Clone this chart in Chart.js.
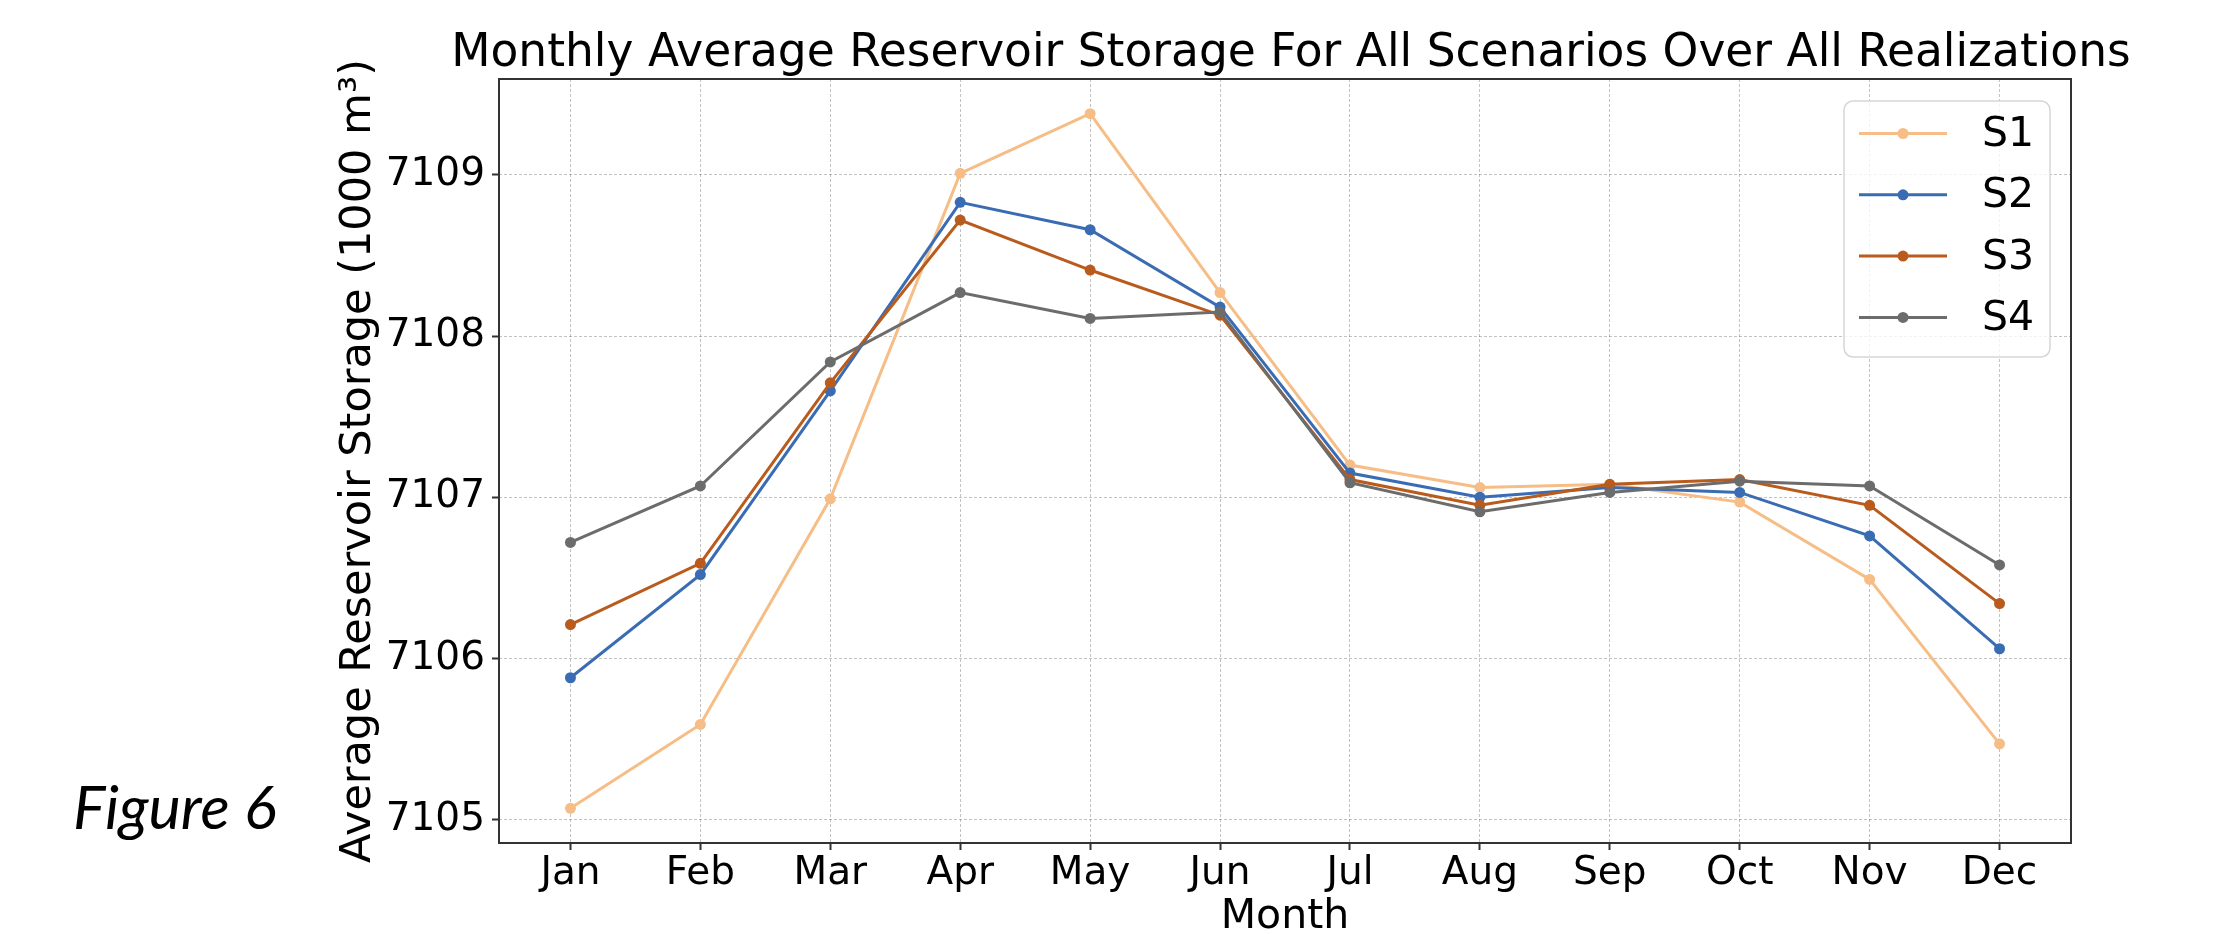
<!DOCTYPE html>
<html>
<head>
<meta charset="utf-8">
<title>Monthly Average Reservoir Storage</title>
<script src="https://cdn.jsdelivr.net/npm/chart.js@4.4.1/dist/chart.umd.min.js"></script>
<style>
  html, body { margin: 0; padding: 0; background: #ffffff; }
  #wrap { position: relative; width: 2213px; height: 934px; background: #ffffff; }
  canvas { display: block; }
</style>
</head>
<body>
<div id="wrap"><canvas id="chart" width="2213" height="934"></canvas></div>
<script>
// Month categories (x axis)
const months = ['Jan', 'Feb', 'Mar', 'Apr', 'May', 'Jun', 'Jul', 'Aug', 'Sep', 'Oct', 'Nov', 'Dec'];

// Average reservoir storage per month, 1000 m³
const storageS1 = [7105.07, 7105.59, 7106.99, 7109.01, 7109.38, 7108.27, 7107.20, 7107.06, 7107.08, 7106.97, 7106.49, 7105.47];
const storageS2 = [7105.88, 7106.52, 7107.66, 7108.83, 7108.66, 7108.18, 7107.15, 7107.00, 7107.06, 7107.03, 7106.76, 7106.06];
const storageS3 = [7106.21, 7106.59, 7107.71, 7108.72, 7108.41, 7108.13, 7107.11, 7106.95, 7107.08, 7107.11, 7106.95, 7106.34];
const storageS4 = [7106.72, 7107.07, 7107.84, 7108.27, 7108.11, 7108.15, 7107.09, 7106.91, 7107.03, 7107.10, 7107.07, 7106.58];

// Scenario names and y-axis tick values
const scenarioNames = ['S1', 'S2', 'S3', 'S4'];
const yTickValues = [7105, 7106, 7107, 7108, 7109];

const seriesValues = [storageS1, storageS2, storageS3, storageS4];
const seriesColors = ['#f6be86', '#3a6cb3', '#b95b1c', '#6c6c6c'];

const chartTitle = 'Monthly Average Reservoir Storage For All Scenarios Over All Realizations';

const FONT = "'DejaVu Sans', 'Liberation Sans', sans-serif";
Chart.defaults.font.family = FONT;
Chart.defaults.color = '#000000';

// Axis limits with a 5% margin around the data
const allValues = seriesValues.flat();
const yLo = Math.min(...allValues), yHi = Math.max(...allValues);
const yPad = (yHi - yLo) * 0.05;
const xPad = (months.length - 1) * 0.05;

const datasets = seriesValues.map((vals, i) => ({
  label: scenarioNames[i],
  data: vals.map((v, k) => ({ x: k, y: v })),
  borderColor: seriesColors[i],
  backgroundColor: seriesColors[i],
  pointBackgroundColor: seriesColors[i],
  pointBorderWidth: 0,
  pointRadius: 5.5,
  pointHoverRadius: 5.5,
  borderWidth: 3,
  tension: 0,
  order: seriesValues.length - i
}));

// Frame around the plot area, in-plot legend, title and figure caption
const framePlugin = {
  id: 'frameAndLegend',
  afterDatasetsDraw(chart) {
    const { ctx, chartArea: a } = chart;
    ctx.save();
    ctx.strokeStyle = '#333333';
    ctx.lineWidth = 2;
    ctx.strokeRect(a.left, a.top, a.right - a.left, a.bottom - a.top);

    // legend box, top-right inside the plot
    const boxW = 206, boxH = 256, r = 9;
    const bx = a.right - 21 - boxW, by = a.top + 22;
    ctx.beginPath();
    ctx.moveTo(bx + r, by);
    ctx.arcTo(bx + boxW, by, bx + boxW, by + boxH, r);
    ctx.arcTo(bx + boxW, by + boxH, bx, by + boxH, r);
    ctx.arcTo(bx, by + boxH, bx, by, r);
    ctx.arcTo(bx, by, bx + boxW, by, r);
    ctx.closePath();
    ctx.fillStyle = 'rgba(255,255,255,0.8)';
    ctx.fill();
    ctx.strokeStyle = '#d6d6d6';
    ctx.lineWidth = 1.5;
    ctx.stroke();

    chart.data.datasets.forEach((ds, i) => {
      const cy = by + 32.5 + i * 61.3;
      const x0 = bx + 15, x1 = bx + 103;
      ctx.strokeStyle = ds.borderColor;
      ctx.lineWidth = 3;
      ctx.beginPath();
      ctx.moveTo(x0, cy);
      ctx.lineTo(x1, cy);
      ctx.stroke();
      ctx.fillStyle = ds.borderColor;
      ctx.beginPath();
      ctx.arc((x0 + x1) / 2, cy, 5.5, 0, Math.PI * 2);
      ctx.fill();
      ctx.fillStyle = '#000000';
      ctx.font = '41px ' + FONT;
      ctx.textAlign = 'left';
      ctx.textBaseline = 'middle';
      ctx.fillText(ds.label, bx + 138, cy + 2);
    });
    ctx.restore();
  },
  afterDraw(chart) {
    const { ctx, chartArea: a } = chart;
    ctx.save();
    ctx.fillStyle = '#000000';
    // title centred over the plot area (allowed to run past its edges)
    ctx.font = '45.5px ' + FONT;
    ctx.textAlign = 'center';
    ctx.textBaseline = 'middle';
    ctx.fillText(chartTitle, (a.left + a.right) / 2 + 6, 54);
    // figure caption
    ctx.font = "italic 61px Lato, 'Open Sans', sans-serif";
    ctx.textAlign = 'left';
    ctx.textBaseline = 'alphabetic';
    ctx.fillText('Figure 6', 73, 829);
    ctx.restore();
  }
};

new Chart(document.getElementById('chart'), {
  type: 'line',
  data: { datasets },
  options: {
    responsive: false,
    animation: false,
    events: [],
    layout: { padding: { top: 79, left: 0, right: 142, bottom: 0 } },
    plugins: {
      legend: { display: false },
      tooltip: { enabled: false },
      title: { display: false }
    },
    scales: {
      x: {
        type: 'linear',
        min: -xPad,
        max: months.length - 1 + xPad,
        afterBuildTicks(s) { s.ticks = months.map((_, i) => ({ value: i })); },
        afterFit(s) { s.height = 91; },
        ticks: {
          callback: (v) => months[v],
          font: { size: 39, lineHeight: 1.2 },
          color: '#000000',
          padding: 0,
          maxRotation: 0,
          autoSkip: false
        },
        grid: {
          color: 'rgba(0,0,0,0.24)',
          lineWidth: 1,
          tickColor: '#333333',
          tickWidth: 2,
          tickLength: 7
        },
        border: { display: false, dash: [3, 2] },
        title: {
          display: true,
          text: 'Month',
          color: '#000000',
          font: { size: 41, lineHeight: 1 },
          padding: { top: 0, bottom: -4 }
        }
      },
      y: {
        type: 'linear',
        min: yLo - yPad,
        max: yHi + yPad,
        afterBuildTicks(s) { s.ticks = yTickValues.map(v => ({ value: v })); },
        afterFit(s) { s.width = 499; },
        ticks: {
          callback: (v) => String(v),
          font: { size: 39 },
          color: '#000000',
          padding: 7
        },
        grid: {
          color: 'rgba(0,0,0,0.24)',
          lineWidth: 1,
          tickColor: '#333333',
          tickWidth: 2,
          tickLength: 7
        },
        border: { display: false, dash: [3, 2] },
        title: {
          display: true,
          text: 'Average Reservoir Storage (1000 m³)',
          color: '#000000',
          font: { size: 43, lineHeight: 1 },
          padding: { top: 337, bottom: 0 }
        }
      }
    }
  },
  plugins: [framePlugin]
});
</script>
</body>
</html>
